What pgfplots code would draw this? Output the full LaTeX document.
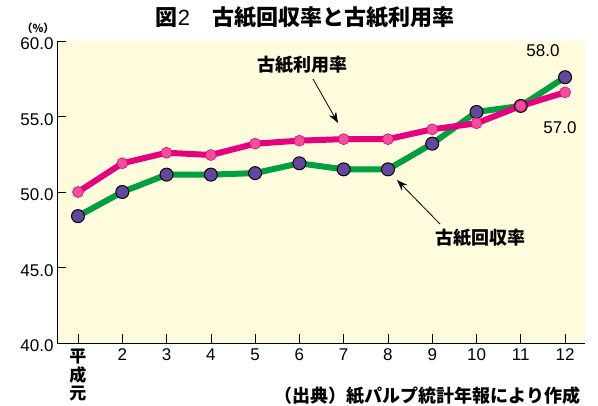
\documentclass[border=0pt]{standalone}
\usepackage{pgfplots}
\pgfplotsset{compat=1.18}
\usepackage{fontspec}
\setmainfont{Liberation Sans}
\newfontfamily\jp{Noto Sans CJK JP}
\usetikzlibrary{arrows.meta}
\definecolor{bg}{RGB}{255,252,222}
\definecolor{lgreen}{RGB}{0,160,64}
\definecolor{lmag}{RGB}{230,0,125}
\definecolor{mpurple}{RGB}{100,70,160}
\definecolor{mpink}{RGB}{240,80,155}
\begin{document}
\begin{tikzpicture}[x=1pt,y=1pt]
\path[use as bounding box] (0pt,0pt) rectangle (598pt,406pt);
\begin{axis}[
  at={(57pt,63pt)}, anchor=south west, scale only axis,
  width=528pt, height=302pt,
  xmin=-0.474, xmax=11.45, ymin=40, ymax=60,
  axis x line*=bottom, axis y line*=left,
  axis line style={-, line width=0.8pt},
  axis background/.style={fill=bg},
  tick align=inside, major tick length=9pt,
  tick style={line width=0.6pt, black},
  xtick={0,...,11},
  xticklabels={{\jp\bfseries\shortstack{平\\成\\元}},2,3,4,5,6,7,8,9,10,11,12},
  ytick={40,45,50,55,60},
  yticklabel style={yshift=-3pt, /pgf/number format/.cd, fixed, fixed zerofill, precision=1},
  /pgf/number format/assume math mode=true,
  ticklabel style={font=\fontsize{17}{17}\selectfont},
  xticklabel style={yshift=-2pt},
  clip=false,
]
\addplot[lgreen, line width=6pt, mark=*, mark size=6.5pt,
  mark options={fill=mpurple, draw=black, line width=1pt}]
  coordinates {(0,48.4) (1,50.0) (2,51.15) (3,51.15) (4,51.25) (5,51.9) (6,51.5) (7,51.5) (8,53.2) (9,55.3) (10,55.7) (11,57.6)};
\addplot[lmag, line width=6pt, mark=*, mark size=5.5pt,
  mark options={fill=mpink, draw=lmag, line width=0.6pt}]
  coordinates {(0,50.0) (1,51.9) (2,52.6) (3,52.45) (4,53.2) (5,53.4) (6,53.5) (7,53.5) (8,54.15) (9,54.55) (10,55.7) (11,56.6)};
\end{axis}
\node[font=\jp\bfseries\fontsize{22}{22}\selectfont] at (305pt,389pt) {図{\mdseries\fontspec{Liberation Sans}2}　古紙回収率と古紙利用率};
\node[font=\jp\bfseries\fontsize{11}{11}\selectfont] at (38pt,378pt) {（\%）};
\node[font=\fontsize{17}{17}\selectfont] at (543pt,355pt) {58.0};
\node[font=\fontsize{17}{17}\selectfont] at (560pt,278pt) {57.0};
\node[font=\jp\bfseries\fontsize{18}{18}\selectfont] at (302pt,341pt) {古紙利用率};
\draw[line width=0.8pt, -{Stealth[length=11pt,width=8pt]}] (313pt,327pt) -- (338pt,283pt);
\node[font=\jp\bfseries\fontsize{18}{18}\selectfont] at (480pt,168pt) {古紙回収率};
\draw[line width=0.8pt, -{Stealth[length=11pt,width=8pt]}] (440pt,182pt) -- (397pt,226pt);
\node[font=\jp\bfseries\fontsize{18}{18}\selectfont, anchor=east] at (584pt,10pt) {（出典）紙パルプ統計年報により作成};
\end{tikzpicture}
\end{document}
